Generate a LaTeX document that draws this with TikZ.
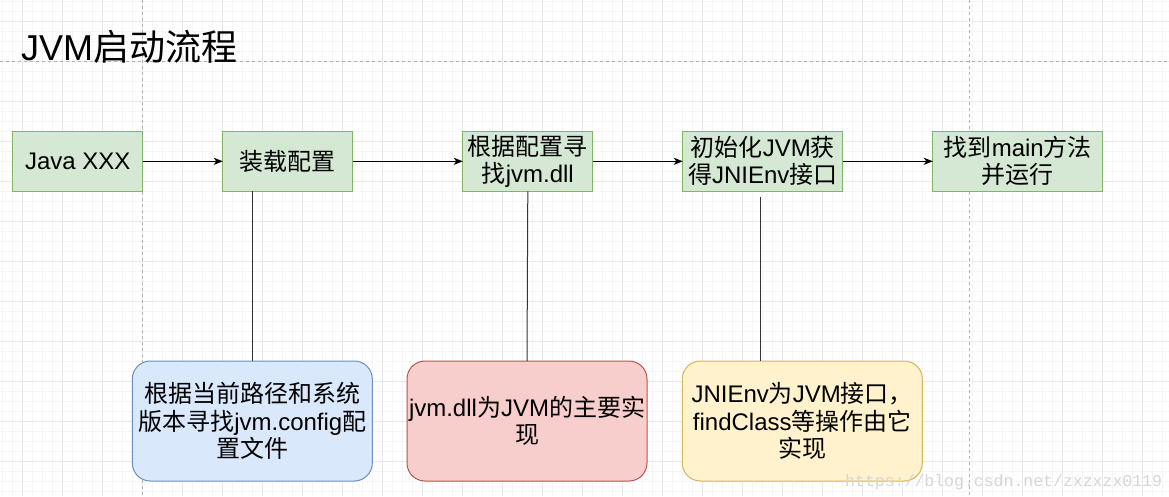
\documentclass[tikz,border=0pt]{standalone}
\usepackage{fontspec}
\setmainfont{Noto Sans CJK SC}
\newfontfamily\latfont{Liberation Sans}
\newfontfamily\markfont{Liberation Mono}
\newcommand\ltx[1]{{\latfont #1}}
\usetikzlibrary{positioning,arrows.meta}

\definecolor{stepfill}{HTML}{D5E8D4}
\definecolor{stepline}{HTML}{82B366}
\definecolor{bluefill}{HTML}{DAE8FC}
\definecolor{blueline}{HTML}{6C8EBF}
\definecolor{redfill}{HTML}{F8CECC}
\definecolor{redline}{HTML}{B85450}
\definecolor{yellowfill}{HTML}{FFF2CC}
\definecolor{yellowline}{HTML}{D6B656}

\tikzset{
  stepbox/.style={draw=stepline, fill=stepfill, line width=1pt, inner sep=0pt, outer sep=0pt,
    minimum height=60pt, align=center, font=\fontsize{24}{27}\selectfont},
  notebox/.style={rounded corners=18pt, line width=1pt, inner sep=0pt, outer sep=0pt,
    minimum width=240pt, minimum height=120pt, align=center,
    font=\fontsize{24}{27.5}\selectfont},
  flow/.style={-{Stealth[length=9pt,width=7pt,inset=2.5pt]}, line width=1pt},
  link/.style={line width=1pt, black!80},
  minorgrid/.style={draw=black!4, line width=1pt},
  majorgrid/.style={draw=black!9, line width=1pt},
  pagebreak/.style={draw=black!30, line width=1pt, dash pattern=on 3pt off 3pt}
}

\begin{document}
\begin{tikzpicture}[x=1pt, y=-1pt]
  \fill[white] (0,0) rectangle (1169,496);
  \useasboundingbox (0,0) rectangle (1169,496);

  % background grid and page breaks
  \foreach \x in {2.7,12.7,...,1169} \draw[minorgrid] (\x,0) -- (\x,496);
  \foreach \y in {1.3,11.3,...,496} \draw[minorgrid] (0,\y) -- (1169,\y);
  \foreach \x in {22.7,62.7,...,1169} \draw[majorgrid] (\x,0) -- (\x,496);
  \foreach \y in {21.3,61.3,...,496} \draw[majorgrid] (0,\y) -- (1169,\y);
  \draw[pagebreak] (142.7,0) -- (142.7,496);
  \draw[pagebreak] (969.4,0) -- (969.4,496);
  \draw[pagebreak] (0,61.3) -- (1169,61.3);

  \node[anchor=base west, inner sep=0pt, font=\fontsize{36}{40}\selectfont] (title) at (21,60) {\ltx{JVM}启动流程};

  \node[stepbox, minimum width=130pt] (javax) at (77.8,161.3) {\ltx{Java XXX}};
  \node[stepbox, minimum width=130pt, right=80pt of javax] (load) {装载配置};
  \node[stepbox, minimum width=130pt, right=110pt of load] (findjvm) {根据配置寻\\找\ltx{jvm.dll}};
  \node[stepbox, minimum width=160pt, right=90pt of findjvm] (initjvm) {初始化\ltx{JVM}获\\得\ltx{JNIEnv}接口};
  \node[stepbox, minimum width=170pt, right=90pt of initjvm] (runmain) {找到\ltx{main}方法\\并运行};

  \node[notebox, draw=blueline, fill=bluefill] (cfgnote) at (252.3,421) {根据当前路径和系统\\版本寻找\ltx{jvm.config}配\\置文件};
  \node[notebox, draw=redline, fill=redfill] (dllnote) at (527,421) {\ltx{jvm.dll}为\ltx{JVM}的主要实\\现};
  \node[notebox, draw=yellowline, fill=yellowfill] (jninote) at (802.3,421) {\ltx{JNIEnv}为\ltx{JVM}接口，\\\ltx{findClass}等操作由它\\实现};

  \draw[flow] (javax) -- (load);
  \draw[flow] (load) -- (findjvm);
  \draw[flow] (findjvm) -- (initjvm);
  \draw[flow] (initjvm) -- (runmain);

  \draw[link] (cfgnote.north) -- (cfgnote.north |- load.south);
  \draw[link] (dllnote.north) -- (findjvm.south);
  \coordinate (jnitop) at (760.5,197);
  \draw[link] (jnitop) -- (jnitop |- jninote.north);

  \node[anchor=base west, inner sep=0pt, text=black!16, font=\markfont\fontsize{16.5}{18}\selectfont] (mark) at (845,486.5) {https://blog.csdn.net/zxzxzx0119};
\end{tikzpicture}
\end{document}
